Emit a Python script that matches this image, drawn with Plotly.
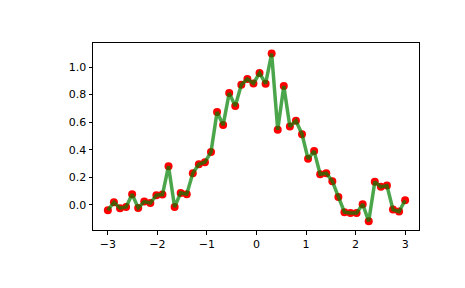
import numpy as np
import plotly.graph_objects as go

x_vals = np.linspace(-3, 3, 50)
y_vals = [-0.039, 0.019, -0.024, -0.015, 0.077, -0.022, 0.024, 0.014, 0.070, 0.075,
          0.281, -0.015, 0.087, 0.077, 0.230, 0.295, 0.310, 0.383, 0.673, 0.579,
          0.811, 0.717, 0.871, 0.913, 0.881, 0.956, 0.879, 1.097, 0.545, 0.862,
          0.569, 0.610, 0.513, 0.334, 0.390, 0.223, 0.230, 0.172, 0.058, -0.053,
          -0.058, -0.058, 0.005, -0.119, 0.167, 0.131, 0.140, -0.034, -0.048, 0.034]
x_ticks = [-3, -2, -1, 0, 1, 2, 3]
y_ticks = [0.0, 0.2, 0.4, 0.6, 0.8, 1.0]

fig = go.Figure()
fig.add_trace(go.Scatter(x=x_vals, y=y_vals, mode="markers",
                         marker=dict(color="#ff0000", size=8, line=dict(width=0)),
                         showlegend=False))
fig.add_trace(go.Scatter(x=x_vals, y=y_vals, mode="lines",
                         line=dict(color="#008000", width=3.5),
                         opacity=0.7, showlegend=False))

axis_common = dict(showline=True, linecolor="black", linewidth=1, mirror=True,
                   ticks="outside", ticklen=3.5, tickwidth=1, tickcolor="black",
                   showgrid=False, zeroline=False,
                   tickfont=dict(family="DejaVu Sans", size=11, color="black"))
fig.update_layout(
    width=465, height=288,
    margin=dict(l=93, r=46, t=43, b=58),
    paper_bgcolor="white", plot_bgcolor="white",
    xaxis=dict(range=[-3.3, 3.28], tickvals=x_ticks, **axis_common),
    yaxis=dict(range=[-0.182, 1.174], tickvals=y_ticks, tickformat=".1f", **axis_common),
)
fig.write_html("out.html")
